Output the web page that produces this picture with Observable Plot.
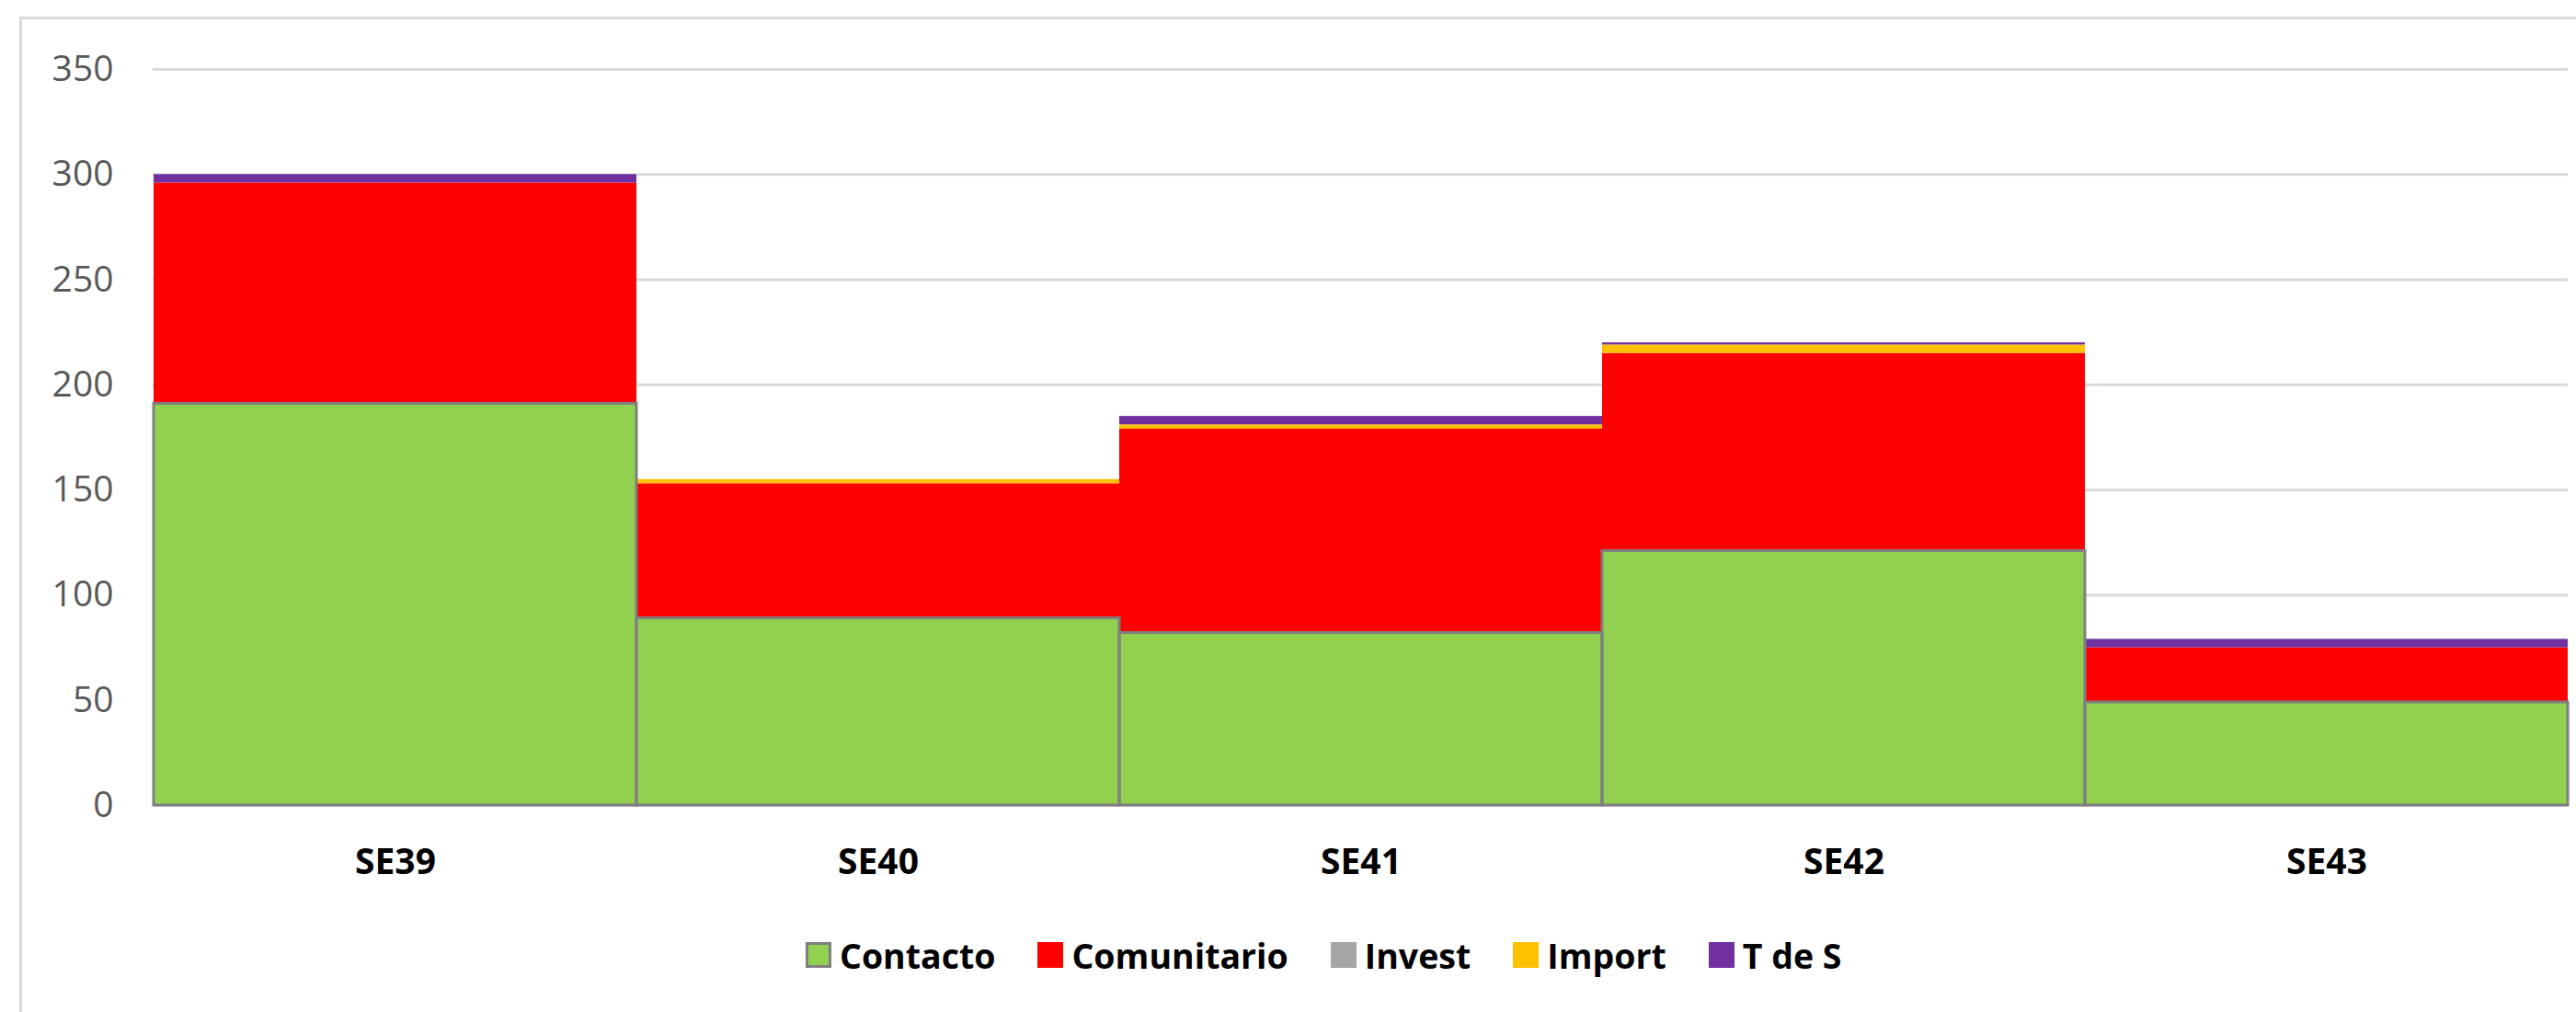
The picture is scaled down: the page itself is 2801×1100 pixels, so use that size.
<!DOCTYPE html>
<html>
<head>
<meta charset="utf-8">
<script src="https://cdn.jsdelivr.net/npm/d3@7"></script>
<script src="https://cdn.jsdelivr.net/npm/@observablehq/plot@0.6"></script>
<style>
  html, body { margin: 0; padding: 0; background: #fff; }
  #wrap { position: relative; width: 2801px; height: 1100px; overflow: hidden; background: #fff; font-family: "Open Sans", sans-serif; }
  #frame { position: absolute; left: 21px; top: 18px; width: 3000px; height: 1200px; border-left: 3px solid #d9d9d9; border-top: 3px solid #d9d9d9; box-sizing: border-box; }
  #chart { position: absolute; left: 0; top: 0; }
  #legend { position: absolute; left: 876px; top: 1018px; height: 40px; display: flex; align-items: center; font-family: "Open Sans", sans-serif; font-weight: bold; font-size: 37.5px; color: #000; white-space: nowrap; }
  .item { display: flex; align-items: center; margin-right: 46px; }
  .sw { width: 28px; height: 28px; margin-right: 9px; box-sizing: border-box; }
</style>
</head>
<body>
<div id="wrap">
  <div id="frame"></div>
  <div id="chart"></div>
  <div id="legend"></div>
</div>
<script>
const weeks = ["SE39", "SE40", "SE41", "SE42", "SE43"];
const seriesNames = ["Contacto", "Comunitario", "Invest", "Import", "T de S"];
const contacto = [191, 89, 82, 121, 49];
const comunitario = [105, 64, 97, 94, 26];
const invest = [0, 0, 0, 0, 0];
const importado = [0, 2, 2, 4, 0];
const tDeS = [4, 0, 4, 1, 4];
const seriesColors = ["#92D050", "#FF0000", "#A5A5A5", "#FFC000", "#7030A0"];
const yTicks = [0, 50, 100, 150, 200, 250, 300, 350];

const seriesValues = [contacto, comunitario, invest, importado, tDeS];
const data = [];
weeks.forEach((w, i) => {
  seriesNames.forEach((s, j) => {
    data.push({week: w, series: s, value: seriesValues[j][i]});
  });
});

const chart = Plot.plot({
  width: 2801,
  height: 990,
  marginLeft: 166,
  marginRight: 9,
  marginTop: 75,
  marginBottom: 115,
  style: {fontFamily: "Open Sans, sans-serif", color: "#595959", background: "transparent"},
  x: {domain: weeks, padding: 0, label: null},
  y: {domain: [0, 350], ticks: yTicks, label: null},
  color: {domain: seriesNames, range: seriesColors},
  marks: [
    Plot.gridY(yTicks, {stroke: "#d9d9d9", strokeOpacity: 1, strokeWidth: 3}),
    Plot.barY(data, {x: "week", y: "value", fill: "series"}),
    Plot.barY(data.filter(d => d.series === "Contacto"), {x: "week", y: "value", fill: "none", stroke: "#7f7f7f", strokeWidth: 3}),
    Plot.axisY(yTicks, {tickSize: 0, tickPadding: 43, fontSize: 39, fill: "#595959"}),
    Plot.axisX({tickSize: 0, tickPadding: 47, fontSize: 39, fontWeight: "bold", fill: "#000"})
  ]
});
document.getElementById("chart").appendChild(chart);

const legend = document.getElementById("legend");
seriesNames.forEach((s, j) => {
  const item = document.createElement("div");
  item.className = "item";
  const sw = document.createElement("div");
  sw.className = "sw";
  sw.style.background = seriesColors[j];
  if (s === "Contacto") sw.style.border = "3px solid #7f7f7f";
  const t = document.createElement("span");
  t.textContent = s;
  item.appendChild(sw);
  item.appendChild(t);
  legend.appendChild(item);
});
</script>
</body>
</html>
